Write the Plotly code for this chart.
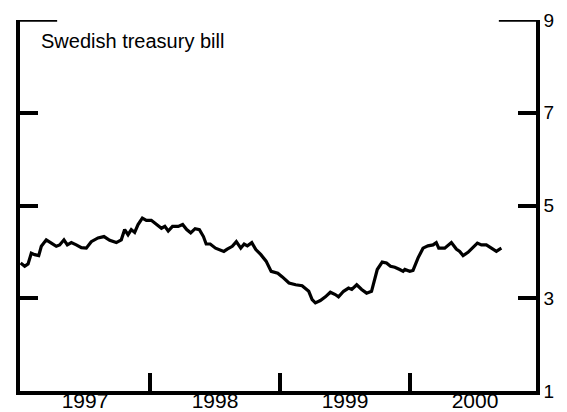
import plotly.graph_objects as go

# Swedish treasury bill rate, percent (decimal years)
t = [
    1997.005, 1997.036, 1997.062, 1997.087, 1997.113, 1997.144, 1997.164, 1997.202,
    1997.241, 1997.279, 1997.305, 1997.338, 1997.364, 1997.395, 1997.433, 1997.472,
    1997.510, 1997.548, 1997.600, 1997.646, 1997.690, 1997.741, 1997.779, 1997.805,
    1997.831, 1997.856, 1997.882, 1997.908, 1997.941, 1997.972, 1998.010, 1998.049,
    1998.088, 1998.114, 1998.140, 1998.173, 1998.217, 1998.251, 1998.282, 1998.313,
    1998.347, 1998.380, 1998.411, 1998.432, 1998.463, 1998.504, 1998.568, 1998.594,
    1998.633, 1998.664, 1998.698, 1998.724, 1998.749, 1998.783, 1998.814, 1998.853,
    1998.893, 1998.932, 1998.983, 1999.018, 1999.069, 1999.120, 1999.170, 1999.221,
    1999.247, 1999.272, 1999.310, 1999.349, 1999.387, 1999.425, 1999.450, 1999.489,
    1999.527, 1999.552, 1999.590, 1999.628, 1999.666, 1999.704, 1999.730, 1999.748,
    1999.786, 1999.819, 1999.850, 1999.883, 1999.921, 1999.947, 1999.960, 1999.998,
    2000.023, 2000.062, 2000.100, 2000.138, 2000.177, 2000.202, 2000.221, 2000.267,
    2000.318, 2000.356, 2000.382, 2000.408, 2000.446, 2000.485, 2000.518, 2000.549,
    2000.587, 2000.626, 2000.664, 2000.690, 2000.703,
]
rate = [
    3.76, 3.69, 3.74, 3.97, 3.94, 3.92, 4.12, 4.26,
    4.19, 4.12, 4.15, 4.26, 4.15, 4.20, 4.15, 4.09,
    4.08, 4.22, 4.30, 4.33, 4.25, 4.20, 4.26, 4.48,
    4.37, 4.48, 4.42, 4.59, 4.73, 4.68, 4.68, 4.59,
    4.51, 4.55, 4.45, 4.55, 4.55, 4.59, 4.48, 4.41,
    4.50, 4.48, 4.33, 4.17, 4.17, 4.08, 4.01, 4.06,
    4.12, 4.22, 4.08, 4.17, 4.13, 4.20, 4.05, 3.94,
    3.80, 3.58, 3.54, 3.46, 3.33, 3.29, 3.27, 3.15,
    2.97, 2.90, 2.95, 3.03, 3.13, 3.08, 3.03, 3.15,
    3.22, 3.19, 3.29, 3.19, 3.11, 3.15, 3.44, 3.62,
    3.78, 3.76, 3.69, 3.67, 3.62, 3.58, 3.62, 3.58,
    3.60, 3.87, 4.08, 4.13, 4.15, 4.20, 4.08, 4.08,
    4.20, 4.06, 4.01, 3.92, 3.99, 4.10, 4.19, 4.15,
    4.15, 4.08, 4.01, 4.06, 4.08,
]

years = [1997, 1998, 1999, 2000]
year_labels = ['1997', '1998', '1999', '2000']
y_ticks = [1, 3, 5, 7, 9]

FONT = 'Liberation Sans, Arial, sans-serif'

fig = go.Figure()

fig.add_trace(go.Scatter(
    x=t, y=rate,
    mode='lines',
    line=dict(color='black', width=3.2),
    showlegend=False,
))

# short segments at the top corners (level 9)
for x0, x1 in [(0, 0.072), (0.928, 1)]:
    fig.add_shape(type='line', xref='paper', yref='y',
                  x0=x0, x1=x1, y0=9, y1=9,
                  line=dict(color='black', width=3.5))

fig.add_annotation(
    text='Swedish treasury bill',
    xref='paper', yref='paper', x=0.036, y=0.943,
    xanchor='left', yanchor='middle', showarrow=False,
    font=dict(size=20, color='black', family=FONT),
)

fig.update_layout(
    width=567, height=412,
    margin=dict(l=12, r=39, t=12, b=29),
    plot_bgcolor='white',
    paper_bgcolor='white',
    font=dict(family=FONT, color='black'),
    xaxis=dict(
        range=[1997, 2000.969],
        automargin=False,
        showgrid=False, zeroline=False,
        showline=True, linecolor='black', linewidth=3.5,
        tickmode='array',
        tickvals=[y + 0.5 for y in years],
        ticktext=year_labels,
        ticks='',
        ticklabelstandoff=-12,
        tickfont=dict(size=21),
        minor=dict(tickmode='array', tickvals=years[1:], ticks='inside',
                   ticklen=18, tickwidth=3.5, tickcolor='black', showgrid=False),
    ),
    yaxis=dict(
        range=[1, 9],
        automargin=False,
        side='right',
        showgrid=False, zeroline=False,
        showline=True, linecolor='black', linewidth=3.5, mirror='ticks',
        tickmode='array', tickvals=y_ticks,
        ticks='inside', ticklen=18, tickwidth=3.5, tickcolor='black',
        tickfont=dict(size=19),
    ),
)

fig.write_html('out.html')
